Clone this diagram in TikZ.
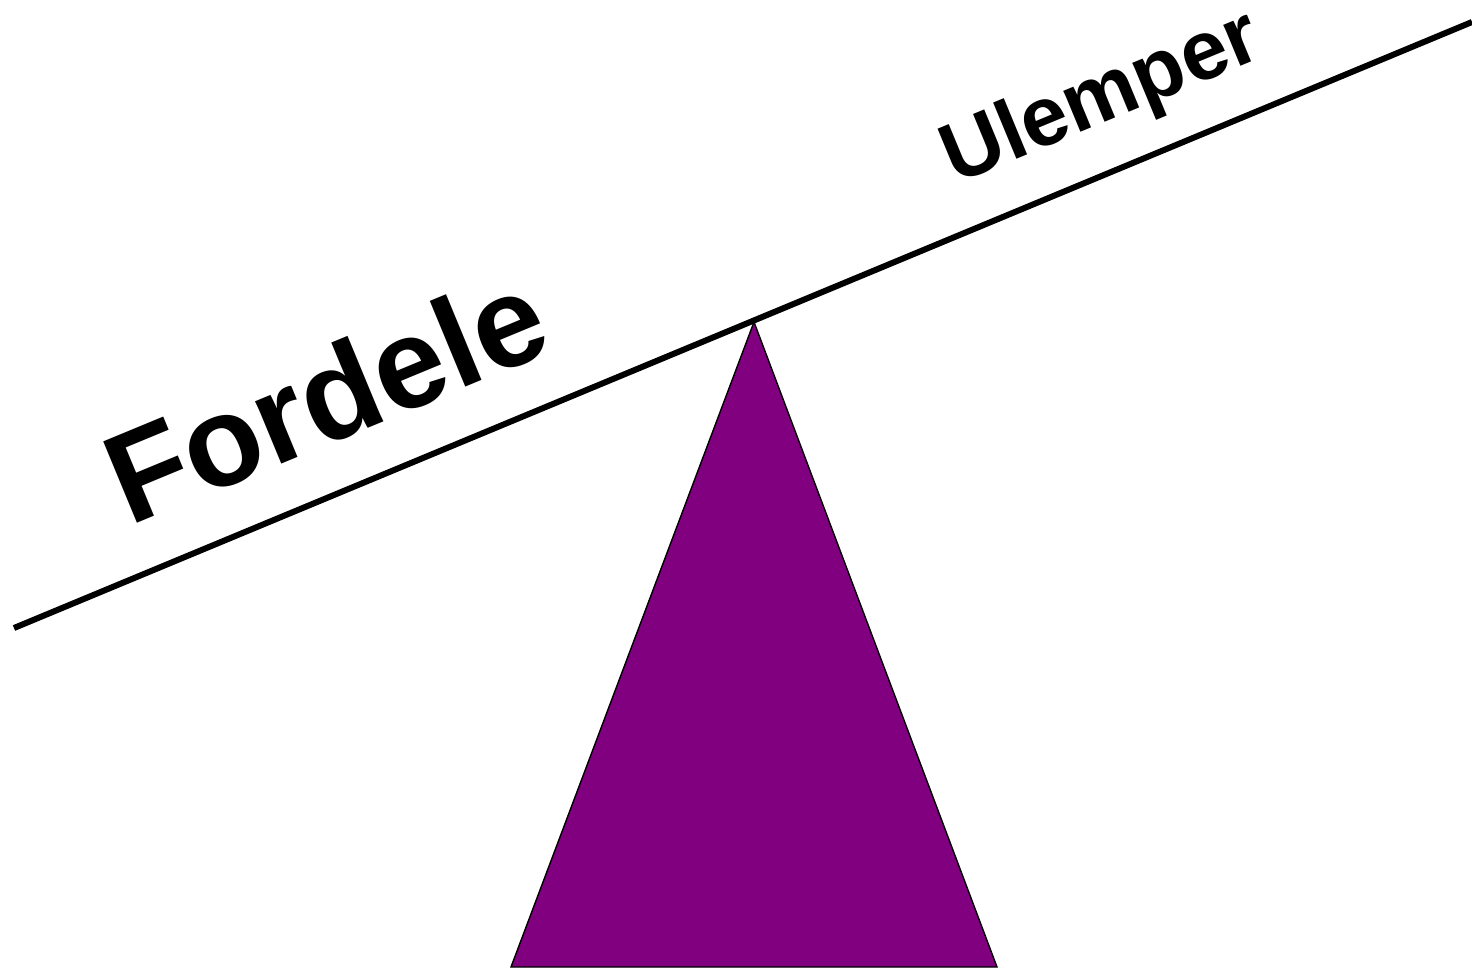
\documentclass[tikz,border=0pt]{standalone}
\usepackage{fontspec}
\setmainfont{Liberation Sans}
\definecolor{tripurple}{HTML}{800080}
\begin{document}
\begin{tikzpicture}[x=1pt,y=-1pt,
  beam/.style={line width=6pt},
  fulcrum/.style={fill=tripurple,draw=black,line width=1.4pt,line join=miter},
  bigword/.style={inner sep=0pt,anchor=base west,rotate=22.5,font=\bfseries\fontsize{128}{150}\selectfont},
  smallword/.style={inner sep=0pt,anchor=base west,rotate=22.5,font=\bfseries\fontsize{84}{100}\selectfont}]
\useasboundingbox (0,0) rectangle (1472,969);
\coordinate (bl) at (14,628);
\coordinate (br) at (1472,22);
\coordinate (apex) at (754,322);
\coordinate (baseL) at (511,967);
\coordinate (baseR) at (997,967);
\draw[fulcrum] (apex) -- (baseR) -- (baseL) -- cycle;
\draw[beam] (bl) -- (br);
\node[bigword] (fordele) at (129,527) {Fordele};
\node[smallword] (ulemper) at (955,185) {Ulemper};
\end{tikzpicture}
\end{document}
